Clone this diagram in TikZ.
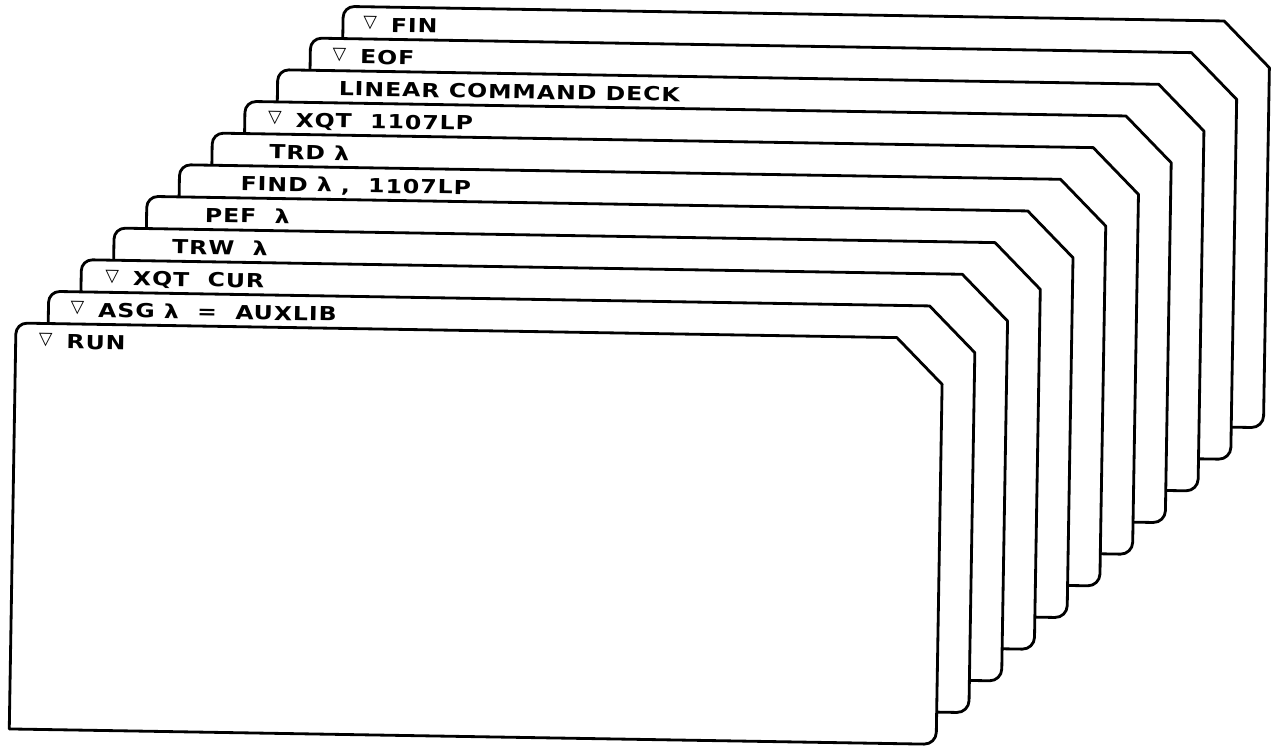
\documentclass[tikz,border=0pt]{standalone}
\usepackage{fontspec}
\newfontfamily\cardfont{DejaVu Sans}[FakeStretch=1.22, LetterSpace=5]
\newfontfamily\symfont{DejaVu Sans}
\newcommand{\tri}{\raisebox{2.2pt}{\symfont\bfseries\fontsize{10}{10}\selectfont ▽}\hspace{8pt}}

\tikzset{
    card/.style={draw=black, fill=white, line width=1.6pt, line join=round},
    punchcard/.pic={
        \draw[card] (0,-406) -- (0,-11) arc[start angle=180, end angle=90, radius=11]
            -- (881,0) -- (927,-46) -- (927,-394) arc[start angle=0, end angle=-90, radius=12]
            -- cycle;
    },
    cardtext/.style={anchor=base west, inner sep=0pt,
        font=\cardfont\bfseries\fontsize{11}{12}\selectfont}
}

\begin{document}
\begin{tikzpicture}[x=0.02cm, y=0.02cm, every node/.style={transform shape}]
    \useasboundingbox (0,0) rectangle (1272,-747);

    \begin{scope}[shift={(16,-323)}, rotate=-0.95]
        % =========================================================
        % BACK OF THE DECK
        % =========================================================
        \begin{scope}[shift={(322,322)}]
            \pic {punchcard};
            \node[cardtext] (fin) at (20,-25) {\tri FIN};
        \end{scope}

        \begin{scope}[shift={(289.8,289.8)}]
            \pic {punchcard};
            \node[cardtext] (eof) at (22,-25) {\tri EOF};
        \end{scope}

        % Command deck
        \begin{scope}[shift={(257.6,257.6)}]
            \pic {punchcard};
            \node[cardtext] (deck) at (61,-25) {LINEAR COMMAND DECK};
        \end{scope}

        \begin{scope}[shift={(225.4,225.4)}]
            \pic {punchcard};
            \node[cardtext] (xqtlp) at (23,-25) {\tri XQT\ \ 1107LP};
        \end{scope}

        \begin{scope}[shift={(193.2,193.2)}]
            \pic {punchcard};
            \node[cardtext] (trd) at (57,-25) {TRD λ};
        \end{scope}

        \begin{scope}[shift={(161,161)}]
            \pic {punchcard};
            \node[cardtext] (find) at (61,-25) {FIND λ ,\ \ 1107LP};
        \end{scope}

        \begin{scope}[shift={(128.8,128.8)}]
            \pic {punchcard};
            \node[cardtext] (pef) at (58,-25) {PEF\ \ λ};
        \end{scope}

        \begin{scope}[shift={(96.6,96.6)}]
            \pic {punchcard};
            \node[cardtext] (trw) at (58,-25) {TRW\ \ λ};
        \end{scope}

        % =========================================================
        % FRONT OF THE DECK
        % =========================================================
        \begin{scope}[shift={(64.4,64.4)}]
            \pic {punchcard};
            \node[cardtext] (xqtcur) at (24,-25) {\tri XQT\ \ CUR};
        \end{scope}

        \begin{scope}[shift={(32.2,32.2)}]
            \pic {punchcard};
            \node[cardtext] (asg) at (22,-25) {\tri ASG λ\ \ =\ \ AUXLIB};
        \end{scope}

        % Run card
        \begin{scope}
            \pic {punchcard};
            \node[cardtext] (run) at (23,-25) {\tri RUN};
        \end{scope}
    \end{scope}
\end{tikzpicture}
\end{document}
